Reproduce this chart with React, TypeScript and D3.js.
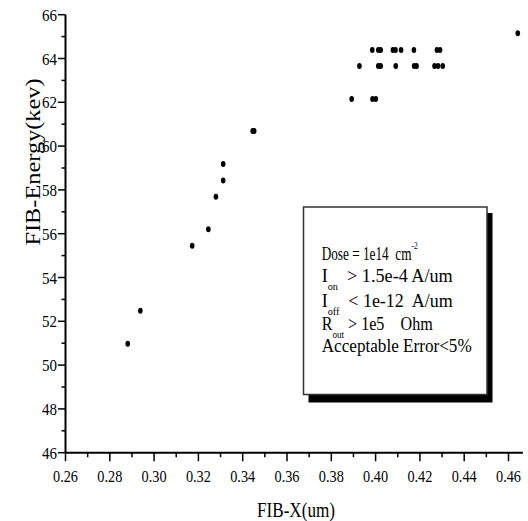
import React from 'react';
import * as d3 from 'd3';

// FIB sweep results
const xs = [
  0.2881, 0.2938, 0.3172, 0.3245, 0.3279, 0.3312, 0.3312, 0.3445, 0.3452,
  0.3892, 0.3986, 0.4001,
  0.3927, 0.4012, 0.4023, 0.4091, 0.4174, 0.4185, 0.4266, 0.4282, 0.4303,
  0.3985, 0.4012, 0.4023, 0.4078, 0.4090, 0.4115, 0.4173, 0.4277, 0.4291,
  0.4642,
];
const ys = [
  50.98, 52.48, 55.45, 56.2, 57.69, 58.43, 59.18, 60.69, 60.69,
  62.15, 62.15, 62.15,
  63.66, 63.66, 63.66, 63.66, 63.66, 63.66, 63.66, 63.66, 63.66,
  64.39, 64.39, 64.39, 64.39, 64.39, 64.39, 64.39, 64.39, 64.39,
  65.15,
];
const xTicks = [0.26, 0.28, 0.3, 0.32, 0.34, 0.36, 0.38, 0.4, 0.42, 0.44, 0.46];
const yTicks = [46, 48, 50, 52, 54, 56, 58, 60, 62, 64, 66];

const FONT = "'Liberation Serif', 'Times New Roman', Times, 'DejaVu Serif', serif";

// legend lines: main text, optional sub/superscript, rest of line
type Part = { t: string; kind?: 'sub' | 'sup' };
const legendLines: { y: number; len: number; parts: Part[] }[] = [
  { y: 260, len: 96, parts: [{ t: 'Dose = 1e14  cm' }, { t: '-2', kind: 'sup' }] },
  { y: 282.3, len: 131, parts: [{ t: 'I' }, { t: 'on', kind: 'sub' }, { t: '  > 1.5e-4 A/um' }] },
  { y: 306.7, len: 131, parts: [{ t: 'I' }, { t: 'off', kind: 'sub' }, { t: '  < 1e-12  A/um' }] },
  { y: 330, len: 111, parts: [{ t: 'R' }, { t: 'out', kind: 'sub' }, { t: ' > 1e5    Ohm' }] },
  { y: 351.7, len: 150, parts: [{ t: 'Acceptable Error<5%' }] },
];

const txt: React.CSSProperties = { fontFamily: FONT, whiteSpace: 'pre' };

export default function App() {
  const width = 528;
  const height = 521;
  const x = d3.scaleLinear().domain([0.26, 0.46]).range([65.5, 508.5]);
  const y = d3.scaleLinear().domain([46, 66]).range([452.7, 14.7]);
  const x0 = x(0.26);
  const y0 = y(46);
  const xMinor = d3.range(0.27, 0.465, 0.02);
  const yMinor = d3.range(47, 66, 2);
  const points = xs.map((v, i) => ({ x: v, y: ys[i] }));

  return (
    <svg
      width={width}
      height={height}
      style={{ position: 'absolute', left: 0, top: 0, background: '#fff', fontFamily: FONT }}
    >
      <rect width={width} height={height} fill="#fff" />
      {/* axes */}
      <line x1={x0} x2={x(0.4665)} y1={y0} y2={y0} stroke="#000" strokeWidth={2} />
      <line x1={x0} x2={x0} y1={y(66)} y2={y0} stroke="#000" strokeWidth={2} />
      {xTicks.map((t) => (
        <g key={`xt${t}`} transform={`translate(${x(t)},${y0})`}>
          <line y2={8.5} stroke="#000" strokeWidth={1.5} />
          <text y={29} style={txt} fontSize={17} textAnchor="middle" textLength={25} lengthAdjust="spacingAndGlyphs">
            {t.toFixed(2)}
          </text>
        </g>
      ))}
      {xMinor.map((t) => (
        <line key={`xm${t}`} x1={x(t)} x2={x(t)} y1={y0} y2={y0 + 4.5} stroke="#000" strokeWidth={1.5} />
      ))}
      {yTicks.map((t) => (
        <g key={`yt${t}`} transform={`translate(${x0},${y(t)})`}>
          <line x2={-7.5} stroke="#000" strokeWidth={1.5} />
          <text x={-8.5} y={6} style={txt} fontSize={16} textAnchor="end" textLength={15} lengthAdjust="spacingAndGlyphs">
            {t}
          </text>
        </g>
      ))}
      {yMinor.map((t) => (
        <line key={`ym${t}`} x1={x0 - 4} x2={x0} y1={y(t)} y2={y(t)} stroke="#000" strokeWidth={1.5} />
      ))}
      {/* axis titles */}
      <text x={296} y={517} style={txt} fontSize={20} textAnchor="middle" textLength={78} lengthAdjust="spacingAndGlyphs">
        FIB-X(um)
      </text>
      <text
        transform="translate(40,162) rotate(-90)"
        style={txt}
        fontSize={21}
        textAnchor="middle"
        textLength={167}
        lengthAdjust="spacingAndGlyphs"
      >
        FIB-Energy(kev)
      </text>
      {/* points */}
      {points.map((p, i) => (
        <ellipse key={i} cx={x(p.x)} cy={y(p.y)} rx={2.3} ry={3} fill="#000" />
      ))}
      {/* legend box with shadow */}
      <rect x={308.5} y={213} width={184} height={189.5} fill="#000" />
      <rect x={303.5} y={207} width={183.5} height={187.5} fill="#fff" stroke="#333" strokeWidth={1.5} />
      {legendLines.map((line, li) => (
        <text
          key={li}
          x={321.7}
          y={line.y}
          style={txt}
          fontSize={19.5}
          textLength={line.len}
          lengthAdjust="spacingAndGlyphs"
        >
          {line.parts.map((p, pi) => {
            const prev = pi > 0 ? line.parts[pi - 1].kind : undefined;
            let dy = 0;
            if (p.kind === 'sub') dy = 8;
            else if (p.kind === 'sup') dy = -11;
            else if (prev === 'sub') dy = -8;
            else if (prev === 'sup') dy = 11;
            return (
              <tspan key={pi} dy={dy} fontSize={p.kind ? 11 : 19.5}>
                {p.t}
              </tspan>
            );
          })}
        </text>
      ))}
    </svg>
  );
}
